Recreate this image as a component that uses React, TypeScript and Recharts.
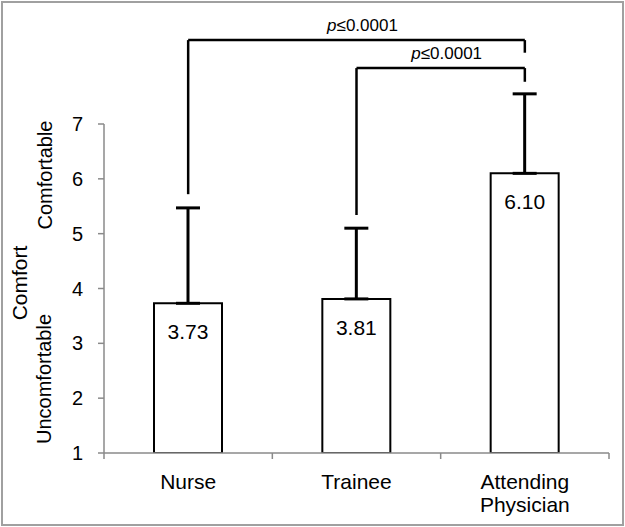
import React from 'react';
import { BarChart, Bar, XAxis, YAxis, ErrorBar, LabelList, ReferenceLine, Text } from 'recharts';

const groups = ['Nurse', 'Trainee', 'Attending Physician'];
const means = [3.73, 3.81, 6.1];
const upperErrors = [1.74, 1.29, 1.45];
const yTicks = [1, 2, 3, 4, 5, 6, 7];

// significance brackets (y values in comfort units, above the axis range)
const brackets = [
  { from: 'Nurse', to: 'Attending Physician', level: 8.53, leftEnd: 5.72, rightEnd: 8.3 },
  { from: 'Trainee', to: 'Attending Physician', level: 8.02, leftEnd: 5.34, rightEnd: 7.77 },
];

const data = groups.map((g, i) => ({ group: g, mean: means[i], err: [0, upperErrors[i]] }));

const AXIS_GREY = '#8a8a8a';

// category label plus tick marks on the band edges (Excel style)
const GroupTick = ({ x, y, payload, index, visibleTicksCount, width }: any) => {
  const half = payload.offset > 0 ? payload.offset : width / visibleTicksCount / 2;
  const last = index === visibleTicksCount - 1;
  return (
    <g>
      <line x1={x - half} x2={x - half} y1={y} y2={y + 6} stroke={AXIS_GREY} strokeWidth={1.5} />
      {last && <line x1={x + half} x2={x + half} y1={y} y2={y + 6} stroke={AXIS_GREY} strokeWidth={1.5} />}
      <Text
        x={x}
        y={y + 21}
        width={130}
        textAnchor="middle"
        verticalAnchor="start"
        fontSize={21}
        fill="#000"
        lineHeight={23}
      >
        {payload.value}
      </Text>
    </g>
  );
};

const renderP = (props: any) => {
  const { x, y, width } = props.viewBox;
  return (
    <text x={x + width / 2 + 6} y={y - 9} textAnchor="middle" fontSize={17} fill="#000">
      <tspan fontStyle="italic">p</tspan>≤0.0001
    </text>
  );
};

const lineProps = { stroke: '#000', strokeWidth: 2.5, ifOverflow: 'visible' as const };

const sideLabel = (value: string, offset: number, fontSize: number) => ({
  value,
  position: 'left' as const,
  offset,
  angle: -90,
  fontSize,
  fill: '#000',
  style: { textAnchor: 'middle' },
});

const App = () => {
  const bracketLines = brackets.flatMap((b, i) => [
    <ReferenceLine
      key={`l${i}`}
      {...lineProps}
      segment={[{ x: b.from, y: b.leftEnd }, { x: b.from, y: b.level }]}
    />,
    <ReferenceLine
      key={`h${i}`}
      {...lineProps}
      segment={[{ x: b.from, y: b.level }, { x: b.to, y: b.level }]}
      label={renderP}
    />,
    <ReferenceLine
      key={`r${i}`}
      {...lineProps}
      segment={[{ x: b.to, y: b.level }, { x: b.to, y: b.rightEnd }]}
    />,
  ]);

  return (
    <div style={{ position: 'absolute', left: 0, top: 0, width: 625, height: 527, background: '#fff' }}>
      <div
        style={{
          position: 'absolute',
          left: 1,
          top: 1,
          width: 623,
          height: 525,
          border: '2px solid #a0a0a0',
          boxSizing: 'border-box',
        }}
      />
      <BarChart
        width={625}
        height={527}
        data={data}
        margin={{ top: 124, right: 16, bottom: 14, left: 0 }}
        style={{ fontFamily: '"Liberation Sans", Arial, sans-serif' }}
      >
        <XAxis
          dataKey="group"
          height={60}
          stroke={AXIS_GREY}
          strokeWidth={1.5}
          tickLine={false}
          tickSize={0}
          tickMargin={0}
          interval={0}
          tick={<GroupTick />}
        />
        <YAxis
          domain={[1, 7]}
          allowDataOverflow
          ticks={yTicks}
          interval={0}
          width={104}
          tickSize={6}
          tickMargin={15}
          stroke={AXIS_GREY}
          strokeWidth={1.5}
          tick={{ fontSize: 20, fill: '#000' }}
        />
        <ReferenceLine y={4.1} stroke="none" label={sideLabel('Comfort', 84, 21)} />
        <ReferenceLine y={6.07} stroke="none" label={sideLabel('Comfortable', 59, 20)} />
        <ReferenceLine y={2.35} stroke="none" label={sideLabel('Uncomfortable', 60, 20)} />
        <Bar dataKey="mean" fill="#fff" stroke="#000" strokeWidth={2} barSize={68} isAnimationActive={false}>
          <ErrorBar dataKey="err" width={12} strokeWidth={3} stroke="#000" direction="y" isAnimationActive={false} />
          <LabelList
            dataKey="mean"
            position="insideTop"
            offset={21}
            fontSize={21}
            fill="#000"
            formatter={(v: any) => Number(v).toFixed(2)}
          />
        </Bar>
        {bracketLines}
      </BarChart>
    </div>
  );
};

export default App;
